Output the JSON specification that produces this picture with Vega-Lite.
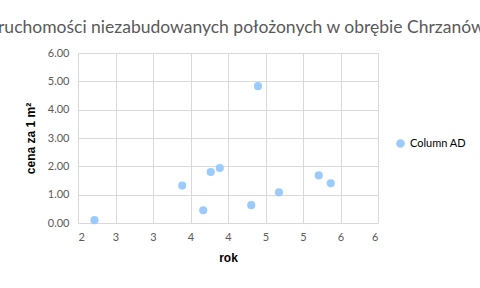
{
  "$schema": "https://vega.github.io/schema/vega-lite/v6.json",
  "width": 300,
  "height": 170,
  "autosize": {"type": "none"},
  "padding": {"left": 78, "top": 53, "right": 102, "bottom": 65},
  "background": "white",
  "title": {
    "text": "ruchomości niezabudowanych położonych w obrębie Chrzanów",
    "anchor": "start",
    "frame": "group",
    "dx": -80,
    "offset": 11,
    "fontSize": 17.5,
    "font": "Lato",
    "fontWeight": "normal",
    "color": "#595959"
  },
  "data": {
    "values": [
      {"rok": 2.22, "cena": 0.10},
      {"rok": 3.39, "cena": 1.32},
      {"rok": 3.67, "cena": 0.45},
      {"rok": 3.77, "cena": 1.80},
      {"rok": 3.89, "cena": 1.94},
      {"rok": 4.40, "cena": 4.83},
      {"rok": 4.31, "cena": 0.63},
      {"rok": 4.68, "cena": 1.08},
      {"rok": 5.21, "cena": 1.68},
      {"rok": 5.37, "cena": 1.40}
    ]
  },
  "mark": {"type": "circle", "size": 66, "opacity": 1},
  "encoding": {
    "x": {
      "field": "rok",
      "type": "quantitative",
      "scale": {"domain": [2, 6], "nice": false, "zero": false},
      "axis": {
        "values": [2, 2.5, 3, 3.5, 4, 4.5, 5, 5.5, 6],
        "format": ".0f",
        "title": "rok",
        "titleFont": "Liberation Sans",
        "titleFontSize": 12,
        "titleFontWeight": "bold",
        "titleColor": "#000000",
        "titlePadding": 10,
        "labelFont": "Lato",
        "labelFontSize": 11,
        "labelColor": "#595959",
        "labelPadding": 8,
        "ticks": false,
        "domainColor": "#d9d9d9",
        "gridColor": "#d9d9d9"
      }
    },
    "y": {
      "field": "cena",
      "type": "quantitative",
      "scale": {"domain": [0, 6], "nice": false},
      "axis": {
        "values": [0, 1, 2, 3, 4, 5, 6],
        "format": ".2f",
        "title": "cena za 1 m²",
        "titleFont": "Liberation Sans",
        "titleFontSize": 12,
        "titleFontWeight": "bold",
        "titleColor": "#000000",
        "titlePadding": 10,
        "labelFont": "Lato",
        "labelFontSize": 11,
        "labelColor": "#595959",
        "labelPadding": 9,
        "ticks": false,
        "domain": false,
        "gridColor": "#d9d9d9"
      }
    },
    "color": {
      "datum": "Column AD",
      "type": "nominal",
      "scale": {"range": ["#9bcbfb"]},
      "legend": {
        "title": null,
        "orient": "none",
        "legendX": 317,
        "legendY": 85,
        "symbolType": "circle",
        "symbolSize": 75,
        "labelFont": "Lato",
        "labelFontSize": 11,
        "labelColor": "#000000"
      }
    }
  },
  "config": {"view": {"stroke": null}}
}
